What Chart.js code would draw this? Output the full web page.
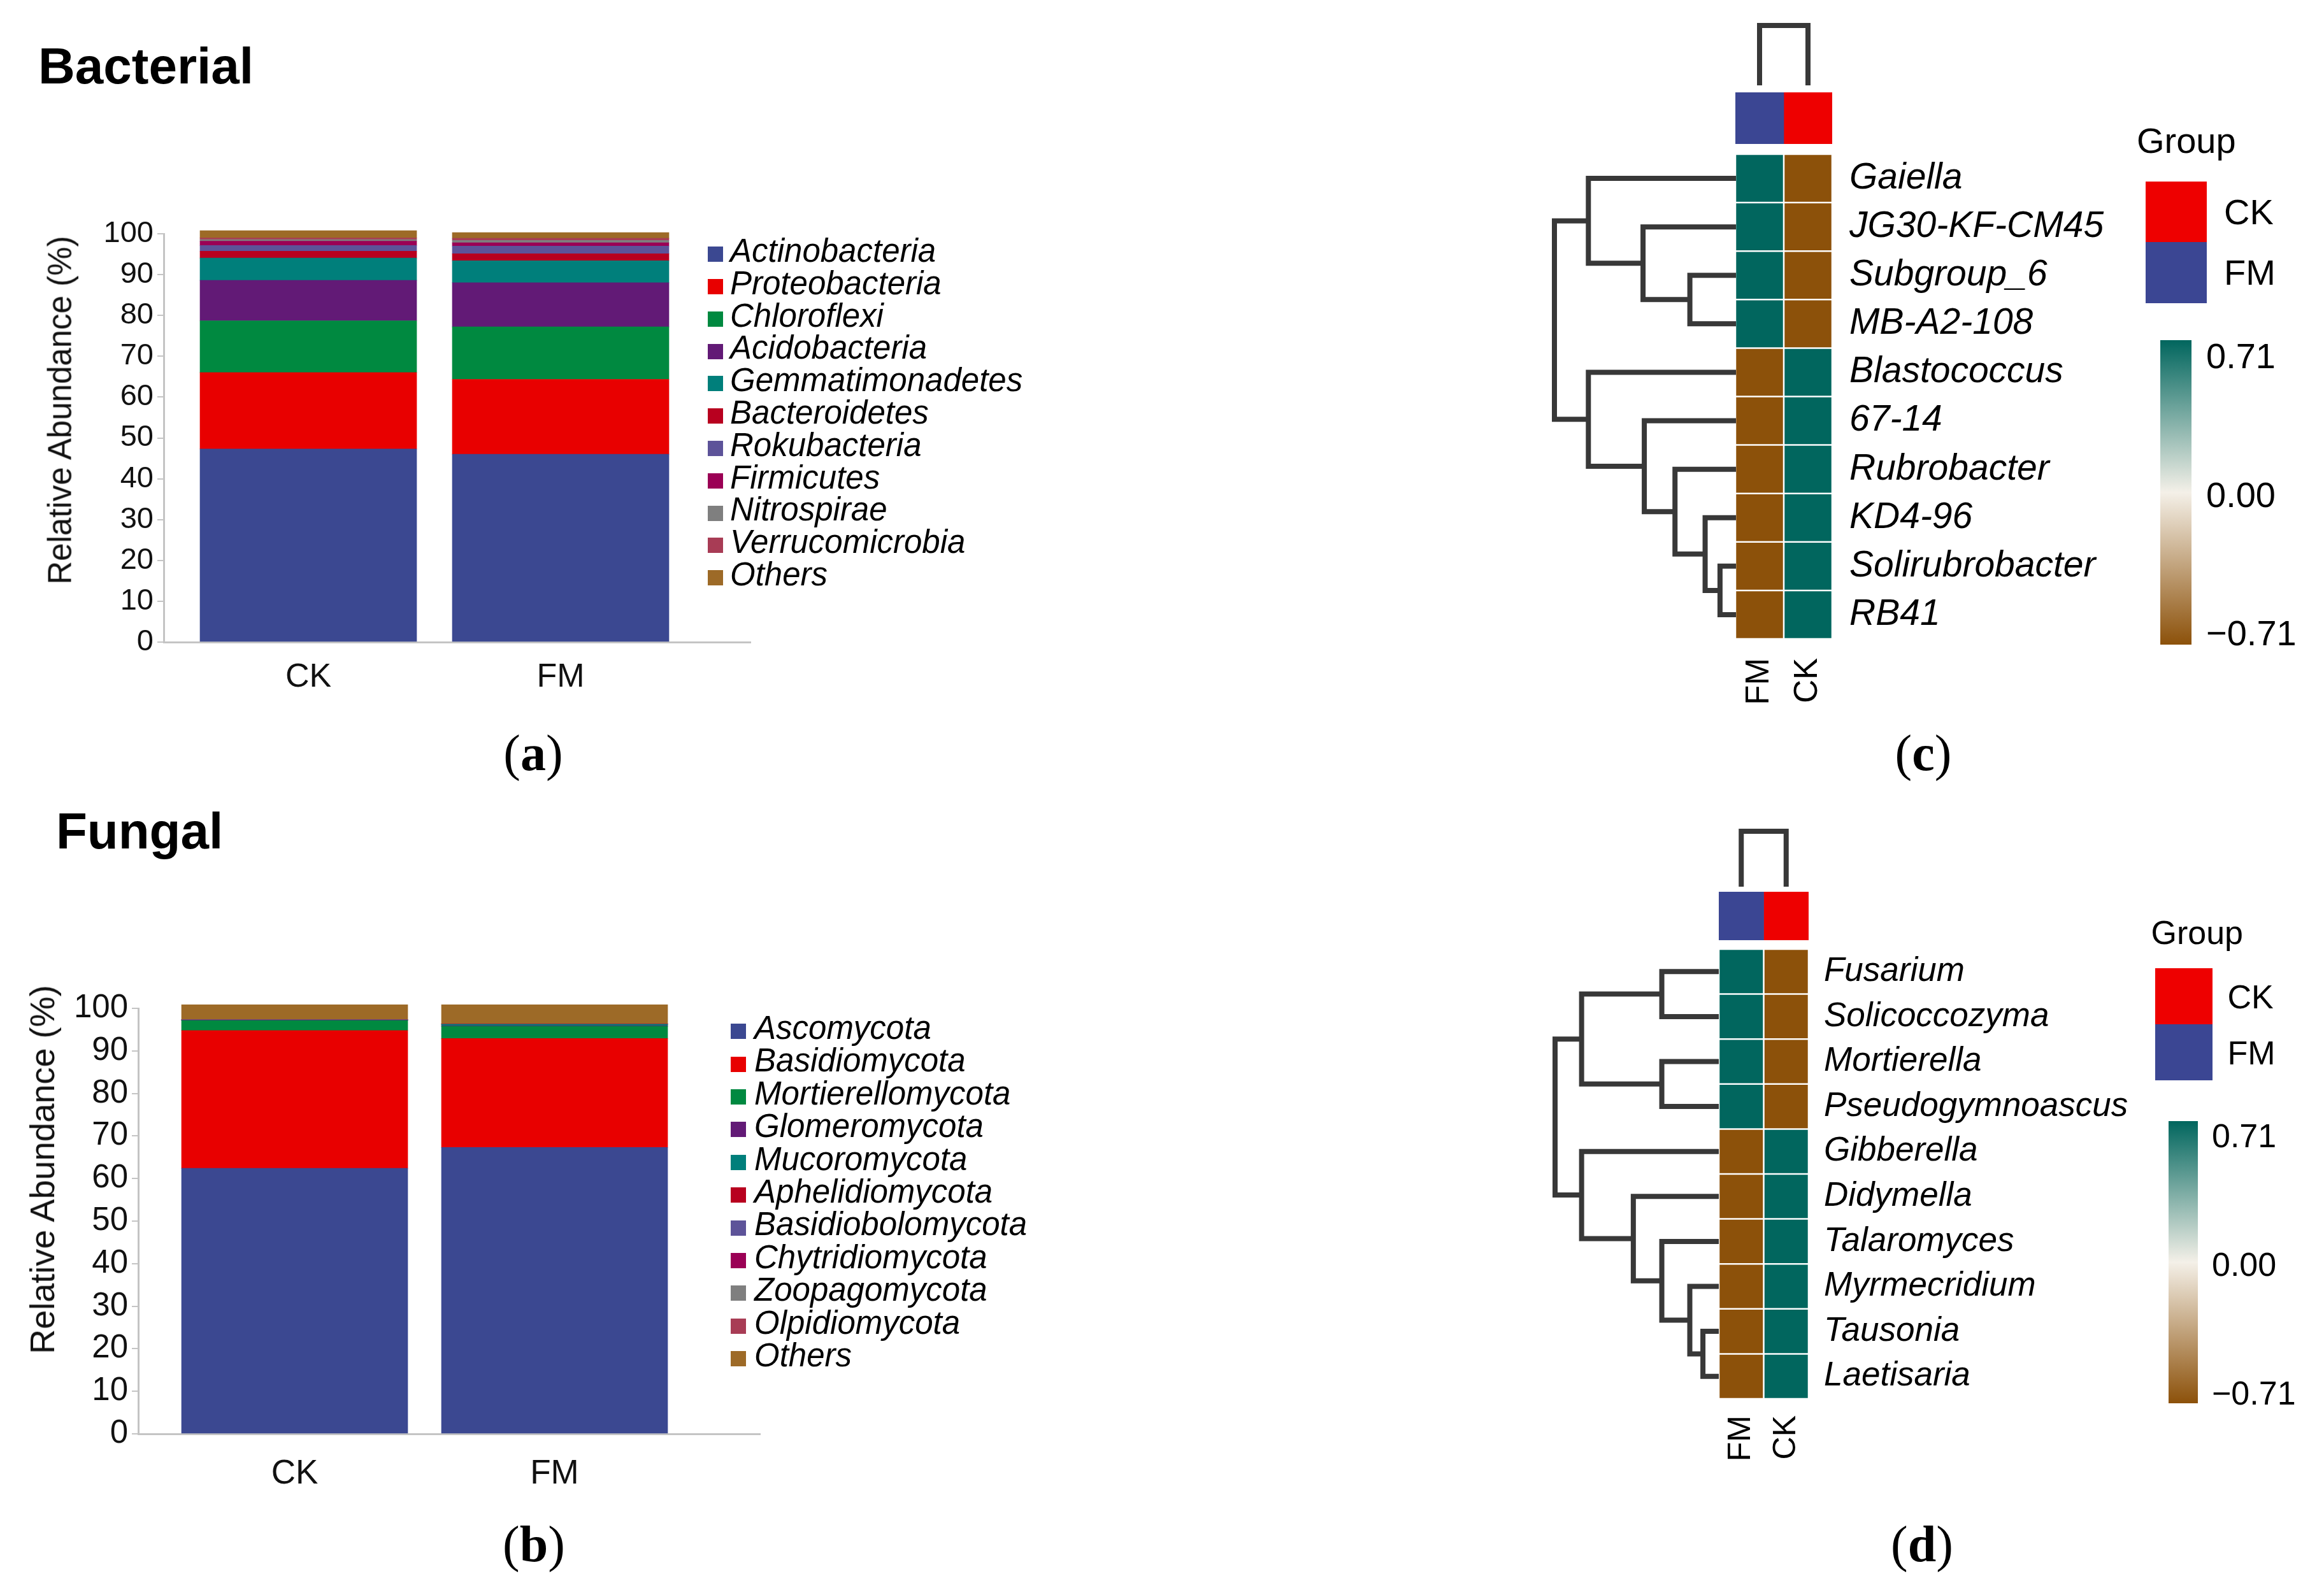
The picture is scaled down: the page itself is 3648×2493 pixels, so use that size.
<!DOCTYPE html>
<html>
<head>
<meta charset="utf-8">
<script src="https://cdn.jsdelivr.net/npm/chart.js@4.4.1/dist/chart.umd.min.js"></script>
<style>
html,body{margin:0;padding:0;background:#fff;}
#page{position:relative;width:3648px;height:2493px;overflow:hidden;background:#fff;font-family:'Liberation Sans',Arial,Helvetica,sans-serif;color:#000;}
#page canvas{position:absolute;}
.t{position:absolute;white-space:nowrap;line-height:1;}
.sw{position:absolute;}
</style>
</head>
<body>
<div id="page"></div>
<script>
// ---------------- DATA ----------------
const sampleLabels = ['CK', 'FM'];

const bacTaxa = ['Actinobacteria','Proteobacteria','Chloroflexi','Acidobacteria','Gemmatimonadetes','Bacteroidetes','Rokubacteria','Firmicutes','Nitrospirae','Verrucomicrobia','Others'];
const bacCK = [47.3, 18.7, 12.7, 9.9, 5.45, 1.7, 1.4, 1.04, 0.4, 0.37, 1.8];
const bacFM = [46.0, 18.35, 12.85, 10.8, 5.4, 1.7, 1.9, 0.8, 0.6, 0.5, 1.4];

const fungTaxa = ['Ascomycota','Basidiomycota','Mortierellomycota','Glomeromycota','Mucoromycota','Aphelidiomycota','Basidiobolomycota','Chytridiomycota','Zoopagomycota','Olpidiomycota','Others'];
const fungCK = [62.4, 32.4, 2.35, 0.05, 0.05, 0.02, 0.02, 0.02, 0.02, 0.02, 3.5];
const fungFM = [67.3, 25.6, 2.9, 0.1, 0.35, 0.02, 0.02, 0.02, 0.02, 0.02, 4.5];

const seriesColors = ['#3B4891','#E80000','#008940','#621A76','#007F7B','#B8001F','#5D5399','#9B0055','#7F7F7F','#A83C55','#9D6A27'];
const abundanceTicks = [0,10,20,30,40,50,60,70,80,90,100];
const abundanceTitle = 'Relative Abundance (%)';

const heatCols = ['FM', 'CK'];
const bacGenera = ['Gaiella','JG30-KF-CM45','Subgroup_6','MB-A2-108','Blastococcus','67-14','Rubrobacter','KD4-96','Solirubrobacter','RB41'];
const bacFMz = [0.71, 0.71, 0.71, 0.71, -0.71, -0.71, -0.71, -0.71, -0.71, -0.71];
const bacCKz = [-0.71, -0.71, -0.71, -0.71, 0.71, 0.71, 0.71, 0.71, 0.71, 0.71];
// hclust-style merges: negative = leaf (1-based row), positive = earlier merge step
const bacMerge = [[-9,-10],[-8,1],[-3,-4],[-7,2],[-6,4],[-2,3],[-1,6],[-5,5],[7,8]];
const bacHeights = [0.088, 0.170, 0.254, 0.336, 0.505, 0.512, 0.813, 0.813, 1.0];

const fungGenera = ['Fusarium','Solicoccozyma','Mortierella','Pseudogymnoascus','Gibberella','Didymella','Talaromyces','Myrmecridium','Tausonia','Laetisaria'];
const fungFMz = [0.71, 0.71, 0.71, 0.71, -0.71, -0.71, -0.71, -0.71, -0.71, -0.71];
const fungCKz = [-0.71, -0.71, -0.71, -0.71, 0.71, 0.71, 0.71, 0.71, 0.71, 0.71];
const fungMerge = [[-9,-10],[-8,1],[-1,-2],[-3,-4],[-7,2],[-6,5],[3,4],[-5,6],[7,8]];
const fungHeights = [0.097, 0.177, 0.348, 0.348, 0.348, 0.522, 0.838, 0.838, 1.0];

const colMerge = [[-1,-2]];
const colHeights = [1.0];

const groupNames = ['CK', 'FM'];
const groupColors = ['#EE0000', '#3B4693'];
const colorbarTicks = [0.71, 0.00, -0.71];
const heatPalette = ['#8C510A', '#F4F0E8', '#01665E'];

// ---------------- HELPERS ----------------
const page = document.getElementById('page');
Chart.defaults.font.family = "'Liberation Sans', Arial, Helvetica, sans-serif";
Chart.defaults.color = '#111';
const DEND_COLOR = '#383838';
const DEND_W = 8;
const AXIS_GRAY = '#c4c4c4';

function mkCanvas(x, y, w, h) {
  const c = document.createElement('canvas');
  c.width = Math.round(w); c.height = Math.round(h);
  c.style.left = x + 'px'; c.style.top = y + 'px';
  c.style.width = Math.round(w) + 'px'; c.style.height = Math.round(h) + 'px';
  page.appendChild(c);
  return c;
}
function txt(s, x, cy, size, o = {}) {
  const d = document.createElement('div');
  d.className = 't';
  d.textContent = s;
  d.style.fontSize = size + 'px';
  d.style.left = x + 'px';
  d.style.top = (cy - 0.4885 * size) + 'px';
  if (o.italic) d.style.fontStyle = 'italic';
  if (o.bold) d.style.fontWeight = 'bold';
  if (o.center) d.style.transform = 'translateX(-50%)';
  if (o.color) d.style.color = o.color;
  page.appendChild(d);
  return d;
}
function vtxt(s, cx, cy, size, color) {
  const d = document.createElement('div');
  d.className = 't';
  d.textContent = s;
  d.style.fontSize = size + 'px';
  d.style.left = cx + 'px';
  d.style.top = cy + 'px';
  d.style.color = color || '#111';
  d.style.transform = 'translate(-50%,-50%) rotate(-90deg)';
  page.appendChild(d);
  return d;
}
function panelLabel(letter, cx, cy, size) {
  const d = document.createElement('div');
  d.className = 't';
  d.style.fontFamily = "'Liberation Serif','Times New Roman',serif";
  d.style.fontSize = size + 'px';
  d.style.left = cx + 'px';
  d.style.transform = 'translateX(-50%)';
  d.style.top = (cy - 0.5775 * size) + 'px';
  const a = document.createElement('span'); a.textContent = '(';
  const b = document.createElement('b'); b.textContent = letter;
  const c = document.createElement('span'); c.textContent = ')';
  d.append(a, b, c);
  page.appendChild(d);
}
function box(x, y, w, h, bg) {
  const d = document.createElement('div');
  d.className = 'sw';
  d.style.left = x + 'px'; d.style.top = y + 'px';
  d.style.width = w + 'px'; d.style.height = h + 'px';
  d.style.background = bg;
  page.appendChild(d);
  return d;
}
function hexToRgb(h) { const n = parseInt(h.slice(1), 16); return [(n >> 16) & 255, (n >> 8) & 255, n & 255]; }
const zMin = Math.min(...colorbarTicks), zMax = Math.max(...colorbarTicks);
function zColor(v) {
  const t = Math.min(1, Math.max(0, (v - zMin) / (zMax - zMin)));
  const pos = t * (heatPalette.length - 1);
  const i = Math.min(heatPalette.length - 2, Math.floor(pos));
  const f = pos - i;
  const a = hexToRgb(heatPalette[i]), b = hexToRgb(heatPalette[i + 1]);
  const c = a.map((x, k) => Math.round(x + (b[k] - x) * f));
  return `rgb(${c[0]},${c[1]},${c[2]})`;
}
function zeroPad(s) { s.paddingTop = 0; s.paddingBottom = 0; s.paddingLeft = 0; s.paddingRight = 0; }

// dendrogram segments from merge matrix
function dendroSegments(merges, heights, leafPos) {
  const nodePos = [], nodeH = [], segs = [];
  merges.forEach((m, k) => {
    const ref = r => r < 0 ? { p: leafPos(-r - 1), h: 0 } : { p: nodePos[r - 1], h: nodeH[r - 1] };
    const a = ref(m[0]), b = ref(m[1]), h = heights[k];
    segs.push([{ h: a.h, p: a.p }, { h, p: a.p }, { h, p: b.p }, { h: b.h, p: b.p }]);
    nodePos.push((a.p + b.p) / 2); nodeH.push(h);
  });
  return segs;
}

// ---------------- STACKED BAR PANELS ----------------
function makeStackBar(L, taxa, ck, fm) {
  const canvas = mkCanvas(L.left, L.top, L.width, L.height);
  const spacing = L.bar1 - L.bar0;
  const xmin = -(L.bar0 - L.axisLeft) / spacing;
  const xmax = 1 + (L.axisRight - L.bar1) / spacing;
  const cols = [ck, fm];
  new Chart(canvas, {
    type: 'bar',
    data: {
      datasets: taxa.map((name, i) => ({
        label: name,
        data: cols.map((arr, j) => ({ x: j, y: arr[i] })),
        backgroundColor: seriesColors[i],
        borderWidth: 0,
        barThickness: L.barWidth,
        clip: false
      }))
    },
    options: {
      responsive: false, animation: false, events: [],
      layout: { padding: { left: 0, top: L.axisTop - L.top, right: L.left + L.width - L.axisRight, bottom: 0 } },
      plugins: { legend: { display: false }, tooltip: { enabled: false } },
      scales: {
        x: {
          type: 'linear', stacked: true, offset: false, min: xmin, max: xmax,
          grid: { display: false, drawTicks: false },
          border: { display: true, color: AXIS_GRAY, width: 3 },
          afterBuildTicks: s => { s.ticks = sampleLabels.map((_, j) => ({ value: j })); },
          ticks: { autoSkip: false, maxRotation: 0, minRotation: 0, padding: L.xLabelPad, font: { size: L.catFont }, color: '#111',
                   callback: v => sampleLabels[Math.round(v)] ?? '' },
          afterFit: s => { s.height = L.top + L.height - L.axisBottom; zeroPad(s); }
        },
        y: {
          stacked: true, min: 0, max: 100,
          afterBuildTicks: s => { s.ticks = abundanceTicks.map(v => ({ value: v })); },
          ticks: { font: { size: L.tickFont }, color: '#111', padding: 6 },
          grid: { drawOnChartArea: false, drawTicks: true, tickLength: 10, color: AXIS_GRAY, lineWidth: 2 },
          border: { display: true, color: AXIS_GRAY, width: 3 },
          title: { display: false },
          afterFit: s => { s.width = L.axisLeft - L.left; zeroPad(s); }
        }
      }
    }
  });
  vtxt(abundanceTitle, L.titleCx, L.titleCy, L.titleFont);
}

function barLegend(taxa, G) {
  taxa.forEach((name, i) => {
    const cy = G.firstCy + G.step * i;
    box(G.sqLeft, cy + 0.358 * G.font - G.sq, G.sq, G.sq, seriesColors[i]);
    txt(name, G.textLeft, cy, G.font, { italic: true });
  });
}

// ---------------- HEATMAP PANELS ----------------
function makeHeatmap(L, rows, fmZ, ckZ, merges, heights) {
  const nR = rows.length, nC = heatCols.length;
  const hmW = L.colW * nC, hmH = L.rowH * nR;
  const labelAreaW = 520, colLabelH = 140;
  const colVals = [fmZ, ckZ];

  // heatmap cells + row / column labels
  const c1 = mkCanvas(L.cellLeft, L.cellTop, hmW + labelAreaW, hmH + colLabelH);
  new Chart(c1, {
    type: 'bar',
    data: {
      labels: rows,
      datasets: heatCols.map((col, j) => ({
        label: col,
        data: rows.map(() => 1),
        backgroundColor: colVals[j].map(zColor),
        borderColor: '#ffffff', borderWidth: 1.6, borderSkipped: false,
        barPercentage: 1, categoryPercentage: 1
      }))
    },
    options: {
      indexAxis: 'y', responsive: false, animation: false, events: [],
      layout: { padding: 0 },
      plugins: { legend: { display: false }, tooltip: { enabled: false } },
      scales: {
        y: {
          position: 'right', stacked: true,
          grid: { display: false, drawTicks: false }, border: { display: false },
          ticks: { autoSkip: false, font: { size: L.rowFont, style: 'italic' }, color: '#000', padding: L.rowLabelPad },
          afterFit: s => { s.width = labelAreaW; zeroPad(s); }
        },
        x: {
          type: 'linear', stacked: true, min: 0, max: nC, offset: false,
          grid: { display: false, drawTicks: false }, border: { display: false },
          afterBuildTicks: s => { s.ticks = heatCols.map((_, j) => ({ value: j + 0.5 })); },
          ticks: { autoSkip: false, minRotation: 90, maxRotation: 90, font: { size: L.colFont }, color: '#000', padding: L.colLabelPad,
                   callback: v => heatCols[Math.floor(v)] },
          afterFit: s => { s.height = colLabelH; zeroPad(s); }
        }
      }
    }
  });

  // group annotation bar
  const c2 = mkCanvas(L.cellLeft, L.annTop, hmW, L.annBottom - L.annTop);
  new Chart(c2, {
    type: 'bar',
    data: {
      labels: ['Group'],
      datasets: heatCols.map(col => ({
        label: col, data: [1],
        backgroundColor: groupColors[groupNames.indexOf(col)],
        borderWidth: 0, barPercentage: 1, categoryPercentage: 1
      }))
    },
    options: {
      indexAxis: 'y', responsive: false, animation: false, events: [],
      layout: { padding: 0 },
      plugins: { legend: { display: false }, tooltip: { enabled: false } },
      scales: { x: { type: 'linear', display: false, stacked: true, min: 0, max: nC, offset: false },
                y: { display: false, stacked: true } }
    }
  });

  // row dendrogram
  const pad = 12;
  const maxH = Math.max(...heights);
  const rowSegs = dendroSegments(merges, heights, i => i);
  const c3 = mkCanvas(L.rootX - pad, L.cellTop, L.cellLeft - L.rootX + pad, hmH);
  new Chart(c3, {
    type: 'scatter',
    data: { datasets: rowSegs.map(s => ({
      data: s.map(q => ({ x: q.h, y: q.p })), showLine: true,
      borderColor: DEND_COLOR, borderWidth: DEND_W, pointRadius: 0, clip: false,
      borderJoinStyle: 'miter', borderCapStyle: 'butt', tension: 0
    })) },
    options: {
      responsive: false, animation: false, events: [],
      layout: { padding: { left: pad, right: 0, top: 0, bottom: 0 } },
      plugins: { legend: { display: false }, tooltip: { enabled: false } },
      scales: { x: { type: 'linear', display: false, min: 0, max: maxH, reverse: true },
                y: { type: 'linear', display: false, min: -0.5, max: nR - 0.5, reverse: true } }
    }
  });

  // column dendrogram
  const cpad = 8;
  const colSegs = dendroSegments(colMerge, colHeights, j => j + 0.5);
  const c4 = mkCanvas(L.cellLeft, L.dendTop - cpad, hmW, L.dendBottom - L.dendTop + cpad);
  new Chart(c4, {
    type: 'scatter',
    data: { datasets: colSegs.map(s => ({
      data: s.map(q => ({ x: q.p, y: q.h })), showLine: true,
      borderColor: DEND_COLOR, borderWidth: DEND_W, pointRadius: 0, clip: false,
      borderJoinStyle: 'miter', borderCapStyle: 'butt', tension: 0
    })) },
    options: {
      responsive: false, animation: false, events: [],
      layout: { padding: { left: 0, right: 0, top: cpad, bottom: 0 } },
      plugins: { legend: { display: false }, tooltip: { enabled: false } },
      scales: { x: { type: 'linear', display: false, min: 0, max: nC },
                y: { type: 'linear', display: false, min: 0, max: Math.max(...colHeights) } }
    }
  });

  // legends
  txt('Group', L.groupX, L.groupCy, L.legFont);
  groupNames.forEach((g, i) => {
    box(L.swX, L.swTop + i * L.swH, L.swW, L.swH, groupColors[i]);
    txt(g, L.swLabelX, L.swTop + (i + 0.5) * L.swH, L.legFont);
  });
  box(L.cbX, L.cbTop, L.cbW, L.cbH, 'linear-gradient(to top,' + heatPalette.join(',') + ')');
  const rmax = 0.78;
  colorbarTicks.forEach(v => {
    const cy = L.cbTop + (rmax - v) / (2 * rmax) * L.cbH + 3;
    txt(v.toFixed(2).replace('-', '\u2212'), L.cbLabelX, cy, L.legFont);
  });
}

// ---------------- LAYOUT ----------------
const LA = { left: 0, top: 300, width: 1200, height: 820, axisLeft: 257, axisRight: 1178, axisTop: 367, axisBottom: 1008,
             bar0: 484, bar1: 880, barWidth: 340, tickFont: 47, catFont: 52, titleFont: 51, titleCx: 94, titleCy: 644, xLabelPad: 24 };
const LB = { left: 0, top: 1500, width: 1220, height: 880, axisLeft: 217, axisRight: 1193, axisTop: 1583, axisBottom: 2251,
             bar0: 462.5, bar1: 870.5, barWidth: 355, tickFont: 51, catFont: 53, titleFont: 54, titleCx: 66, titleCy: 1836, xLabelPad: 32 };
const LC = { cellLeft: 2724, cellTop: 242, colW: 76, rowH: 76.1, rootX: 2439.5, rowFont: 57, colFont: 51, rowLabelPad: 27, colLabelPad: 30,
             annTop: 144.5, annBottom: 225, dendTop: 40, dendBottom: 134,
             legFont: 56, groupX: 3354, groupCy: 220, swX: 3368, swTop: 284.5, swW: 96, swH: 95.5, swLabelX: 3491,
             cbX: 3391, cbTop: 534, cbW: 49, cbH: 478, cbLabelX: 3463 };
const LD = { cellLeft: 2697.7, cellTop: 1489.8, colW: 70.35, rowH: 70.62, rootX: 2441, rowFont: 53, colFont: 50, rowLabelPad: 24, colLabelPad: 26,
             annTop: 1400.3, annBottom: 1476, dendTop: 1305, dendBottom: 1391.5,
             legFont: 52, groupX: 3376.5, groupCy: 1463, swX: 3383, swTop: 1520, swW: 89.5, swH: 88, swLabelX: 3496.5,
             cbX: 3404, cbTop: 1759.7, cbW: 45.5, cbH: 443.7, cbLabelX: 3472 };

// ---------------- BUILD ----------------
makeStackBar(LA, bacTaxa, bacCK, bacFM);
makeStackBar(LB, fungTaxa, fungCK, fungFM);
makeHeatmap(LC, bacGenera, bacFMz, bacCKz, bacMerge, bacHeights);
makeHeatmap(LD, fungGenera, fungFMz, fungCKz, fungMerge, fungHeights);

barLegend(bacTaxa, { firstCy: 393, step: 50.8, sqLeft: 1111, sq: 24, textLeft: 1146, font: 51 });
barLegend(fungTaxa, { firstCy: 1613, step: 51.4, sqLeft: 1147, sq: 24, textLeft: 1184, font: 51 });

txt('Bacterial', 60, 132 - 0.358 * 80, 80, { bold: true });
txt('Fungal', 88, 1333 - 0.358 * 80, 80, { bold: true });

panelLabel('a', 837, 1188, 80);
panelLabel('b', 838, 2430, 80);
panelLabel('c', 3019, 1188, 80);
panelLabel('d', 3017, 2430, 80);
</script>
</body>
</html>
